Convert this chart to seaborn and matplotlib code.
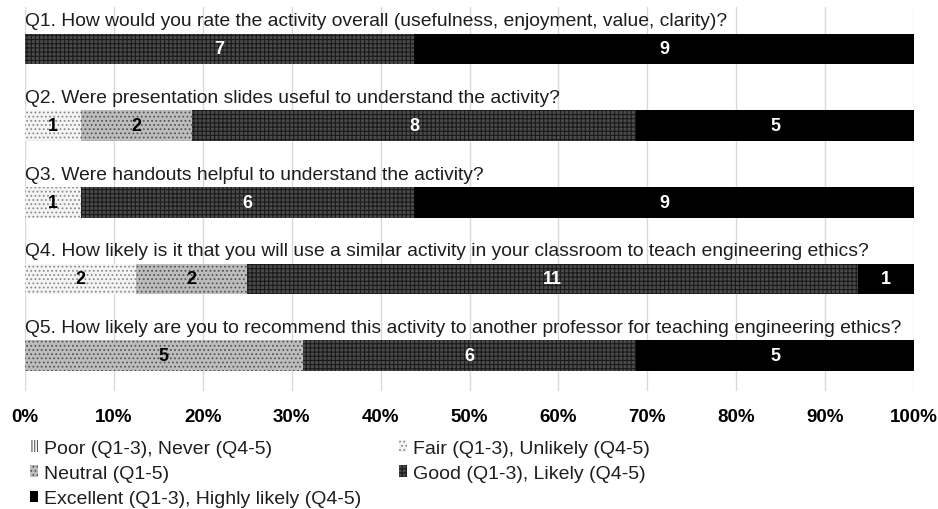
import matplotlib
matplotlib.use("Agg")
import matplotlib.pyplot as plt
from matplotlib.patches import Patch
from matplotlib.ticker import FuncFormatter
import seaborn as sns
import pandas as pd
import numpy as np

questions = [
    "Q1. How would you rate the activity overall (usefulness, enjoyment, value, clarity)?",
    "Q2. Were presentation slides useful to understand the activity?",
    "Q3. Were handouts helpful to understand the activity?",
    "Q4. How likely is it that you will use a similar activity in your classroom to teach engineering ethics?",
    "Q5. How likely are you to recommend this activity to another professor for teaching engineering ethics?",
]
q_ids = ["Q1", "Q2", "Q3", "Q4", "Q5"]
categories = [
    "Poor (Q1-3), Never (Q4-5)",
    "Fair (Q1-3), Unlikely (Q4-5)",
    "Neutral (Q1-5)",
    "Good (Q1-3), Likely (Q4-5)",
    "Excellent (Q1-3), Highly likely (Q4-5)",
]
poor = [0, 0, 0, 0, 0]
fair = [0, 1, 1, 2, 0]
neutral = [0, 2, 0, 2, 5]
good = [7, 8, 6, 11, 6]
excellent = [9, 5, 9, 1, 5]
tick_values = [0, 10, 20, 30, 40, 50, 60, 70, 80, 90, 100]

styles = {
    categories[0]: dict(face="#ffffff", edge="#555555", hatch="||||||", text="black"),
    categories[1]: dict(face="#f4f4f4", edge="#8c8c8c", hatch="....", text="black"),
    categories[2]: dict(face="#bdbdbd", edge="#555555", hatch="....", text="black"),
    categories[3]: dict(face="#4a4a4a", edge="#1a1a1a", hatch="++++", text="white"),
    categories[4]: dict(face="#000000", edge="#000000", hatch="", text="white"),
}

counts = np.array([poor, fair, neutral, good, excellent], dtype=float)  # cat x q
totals = counts.sum(axis=0)
pct = counts / totals * 100
cum = np.cumsum(pct, axis=0)

sns.set_theme(style="white")
plt.rcParams["font.family"] = ["Liberation Sans", "DejaVu Sans"]
plt.rcParams["hatch.linewidth"] = 0.8

W, H = 938, 510
fig = plt.figure(figsize=(W / 100, H / 100), dpi=100)
ax_top, ax_bot = 8, 392
ax = fig.add_axes([25 / W, 1 - ax_bot / H, (914 - 25) / W, (ax_bot - ax_top) / H])

# draw cumulative bars from the rightmost category down (overlapping stacks)
for ci in range(len(categories) - 1, -1, -1):
    df = pd.DataFrame({"q": q_ids, "cum": cum[ci]})
    st = styles[categories[ci]]
    sns.barplot(data=df, x="cum", y="q", orient="h", color=st["face"],
                width=0.4, ax=ax, order=q_ids)
    for p in ax.containers[-1]:
        p.set_facecolor(st["face"])
        p.set_edgecolor(st["edge"])
        p.set_hatch(st["hatch"])
        p.set_linewidth(0)
        p.set_zorder(2)

# segment labels
for qi in range(len(q_ids)):
    for ci in range(len(categories)):
        v = counts[ci, qi]
        if v <= 0:
            continue
        center = cum[ci, qi] - pct[ci, qi] / 2
        ax.text(center, qi, f"{int(v)}", ha="center", va="center",
                fontsize=13, fontweight="bold",
                color=styles[categories[ci]]["text"], zorder=5)

# question titles
for qi, q in enumerate(questions):
    ax.text(0, qi - 0.31, q, ha="left", va="baseline", fontsize=13.9,
            color="#1e1e1e", zorder=5)

ax.set_xlim(0, 100)
ax.set_ylim(4.463, -0.548)
ax.set_xticks(tick_values)
ax.xaxis.set_major_formatter(FuncFormatter(lambda v, _: f"{int(v)}%"))
ax.set_yticks([])
ax.set_xlabel("")
ax.set_ylabel("")
ax.grid(axis="x", color="#d9d9d9", linewidth=1, zorder=0)
ax.set_axisbelow(True)
for s in ax.spines.values():
    s.set_visible(False)
ax.tick_params(axis="x", length=0, pad=12, labelsize=13.5, labelcolor="black")
for lab in ax.get_xticklabels():
    lab.set_fontweight("bold")

# legend (row-major order across two columns)
order = [0, 2, 4, 1, 3]
handles = []
for ci in order:
    st = styles[categories[ci]]
    handles.append(Patch(facecolor=st["face"], edgecolor=st["edge"],
                         hatch=st["hatch"], linewidth=0, label=categories[ci]))
fig.legend(handles=handles, ncol=2, loc="upper left",
           bbox_to_anchor=(30 / W, 1 - 441 / H), frameon=False,
           fontsize=14, handlelength=0.42, handleheight=0.55, handletextpad=0.3,
           columnspacing=1.95, labelspacing=0.42, borderaxespad=0,
           borderpad=0, labelcolor="#1e1e1e")

fig.savefig("out.png", dpi=100)
